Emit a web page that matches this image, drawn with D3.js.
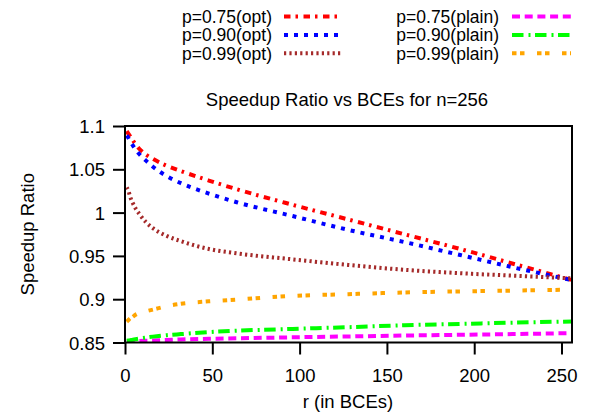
<!DOCTYPE html>
<html>
<head>
<meta charset="utf-8">
<script src="https://cdn.jsdelivr.net/npm/d3@7"></script>
<style>
  html, body { margin: 0; padding: 0; background: #fff; }
  svg { display: block; }
  text { font-family: "Liberation Sans", Arial, Helvetica, sans-serif; fill: #000; }
</style>
</head>
<body>
<svg id="chart" width="592" height="416"></svg>
<script>
// ---- data ----
const rValues = [1, 2, 3, 4, 6, 8, 12, 16, 24, 32, 48, 64, 96, 128, 160, 192, 224, 256];

const opt075 = [1.094, 1.091, 1.088, 1.085, 1.079, 1.074, 1.067, 1.062, 1.054, 1.048, 1.037, 1.027, 1.009, 0.992, 0.975, 0.958, 0.940, 0.922];
const opt090 = [1.089, 1.086, 1.082, 1.079, 1.073, 1.068, 1.060, 1.053, 1.042, 1.034, 1.022, 1.012, 0.996, 0.980, 0.966, 0.951, 0.936, 0.922];
const opt099 = [1.029, 1.025, 1.018, 1.013, 1.005, 0.999, 0.989, 0.982, 0.973, 0.967, 0.958, 0.953, 0.946, 0.9395, 0.934, 0.930, 0.927, 0.924];
const plain075 = [0.851, 0.8511, 0.8512, 0.8513, 0.8515, 0.8517, 0.852, 0.8523, 0.8529, 0.8535, 0.8542, 0.8548, 0.856, 0.857, 0.858, 0.8589, 0.8598, 0.8608];
const plain090 = [0.852, 0.8523, 0.8527, 0.853, 0.8538, 0.8545, 0.8557, 0.8568, 0.8585, 0.8597, 0.862, 0.8636, 0.8657, 0.8677, 0.870, 0.8715, 0.873, 0.8743];
const plain099 = [0.874, 0.876, 0.878, 0.879, 0.882, 0.884, 0.886, 0.888, 0.892, 0.8947, 0.8975, 0.8996, 0.9038, 0.9058, 0.9078, 0.909, 0.910, 0.911];

const seriesNames = ["p=0.75(opt)", "p=0.90(opt)", "p=0.99(opt)", "p=0.75(plain)", "p=0.90(plain)", "p=0.99(plain)"];
const seriesValues = [opt075, opt090, opt099, plain075, plain090, plain099];

const xTicks = [0, 50, 100, 150, 200, 250];
const yTicks = [0.85, 0.9, 0.95, 1, 1.05, 1.1];
const yTickLabels = ["0.85", "0.9", "0.95", "1", "1.05", "1.1"];

const titleText = "Speedup Ratio vs BCEs for n=256";
const xLabel = "r (in BCEs)";
const yLabel = "Speedup Ratio";

// ---- styles ----
const colors = ["#ff0000", "#0000ff", "#a52a2a", "#ff00ff", "#00ff00", "#ffa500"];
const dashes = ["6.5,5,2.5,5.5", "4,6", "2.2,3.2", "8,4.7", "11.5,5,2,4.5", "4.5,3.5,4.5,12.5"];

// ---- layout ----
const svg = d3.select("#chart");
const plot = { left: 125, right: 572, top: 126, bottom: 342.5 };
const fontSize = 18.5;
const legendFontSize = 17.5;

const x = d3.scaleLinear().domain([0, 256]).range([plot.left, plot.right]);
const y = d3.scaleLinear().domain([0.85, 1.1]).range([plot.bottom, plot.top]);

// title
svg.append("text")
  .attr("x", 347).attr("y", 105.5)
  .attr("text-anchor", "middle")
  .attr("font-size", fontSize)
  .text(titleText);

// axes
const yAxis = d3.axisLeft(y).tickValues(yTicks)
  .tickFormat((d, i) => yTickLabels[i])
  .tickSize(12).tickSizeOuter(0).tickPadding(8);
const gy = svg.append("g").attr("transform", `translate(${plot.left},0)`).call(yAxis);
gy.select(".domain").remove();
gy.selectAll(".tick line").attr("stroke", "#000").attr("stroke-width", 2);
gy.selectAll(".tick text").attr("font-size", fontSize).attr("font-family", null).attr("dy", "0.36em");

const xAxis = d3.axisBottom(x).tickValues(xTicks)
  .tickFormat(d3.format("d"))
  .tickSize(12).tickSizeOuter(0).tickPadding(14);
const gx = svg.append("g").attr("transform", `translate(0,${plot.bottom})`).call(xAxis);
gx.select(".domain").remove();
gx.selectAll(".tick line").attr("stroke", "#000").attr("stroke-width", 2);
gx.selectAll(".tick text").attr("font-size", fontSize).attr("font-family", null);
svg.selectAll(".tick text").style("font-family", '"Liberation Sans", Arial, sans-serif');

// axis labels
svg.append("text")
  .attr("x", 348).attr("y", 408)
  .attr("text-anchor", "middle")
  .attr("font-size", fontSize)
  .text(xLabel);
svg.append("text")
  .attr("transform", `translate(34,${(plot.top + plot.bottom) / 2}) rotate(-90)`)
  .attr("text-anchor", "middle")
  .attr("font-size", fontSize)
  .text(yLabel);

// clip
svg.append("clipPath").attr("id", "clip")
  .append("rect")
  .attr("x", plot.left).attr("y", plot.top)
  .attr("width", plot.right - plot.left).attr("height", plot.bottom - plot.top);

// lines
const line = d3.line()
  .x((d, i) => x(rValues[i]))
  .y(d => y(d))
  .curve(d3.curveMonotoneX);

const gLines = svg.append("g").attr("clip-path", "url(#clip)");
seriesValues.forEach((vals, k) => {
  gLines.append("path")
    .datum(vals)
    .attr("d", line)
    .attr("fill", "none")
    .attr("stroke", colors[k])
    .attr("stroke-width", 4)
    .attr("stroke-dasharray", dashes[k]);
});

// frame
svg.append("rect")
  .attr("x", plot.left).attr("y", plot.top)
  .attr("width", plot.right - plot.left).attr("height", plot.bottom - plot.top)
  .attr("fill", "none").attr("stroke", "#000").attr("stroke-width", 2);

// legend
const legendCols = [
  { textRight: 272, lineX0: 284, lineX1: 342 },
  { textRight: 499, lineX0: 512, lineX1: 571 }
];
const legendRows = [16.5, 35, 53.3];
seriesNames.forEach((name, k) => {
  const col = legendCols[Math.floor(k / 3)];
  const ry = legendRows[k % 3];
  svg.append("text")
    .attr("x", col.textRight).attr("y", ry)
    .attr("dy", "0.36em")
    .attr("text-anchor", "end")
    .attr("font-size", legendFontSize)
    .attr("textLength", null)
    .text(name);
  svg.append("line")
    .attr("x1", col.lineX0).attr("x2", col.lineX1)
    .attr("y1", ry).attr("y2", ry)
    .attr("stroke", colors[k])
    .attr("stroke-width", 4)
    .attr("stroke-dasharray", dashes[k]);
});
</script>
</body>
</html>
